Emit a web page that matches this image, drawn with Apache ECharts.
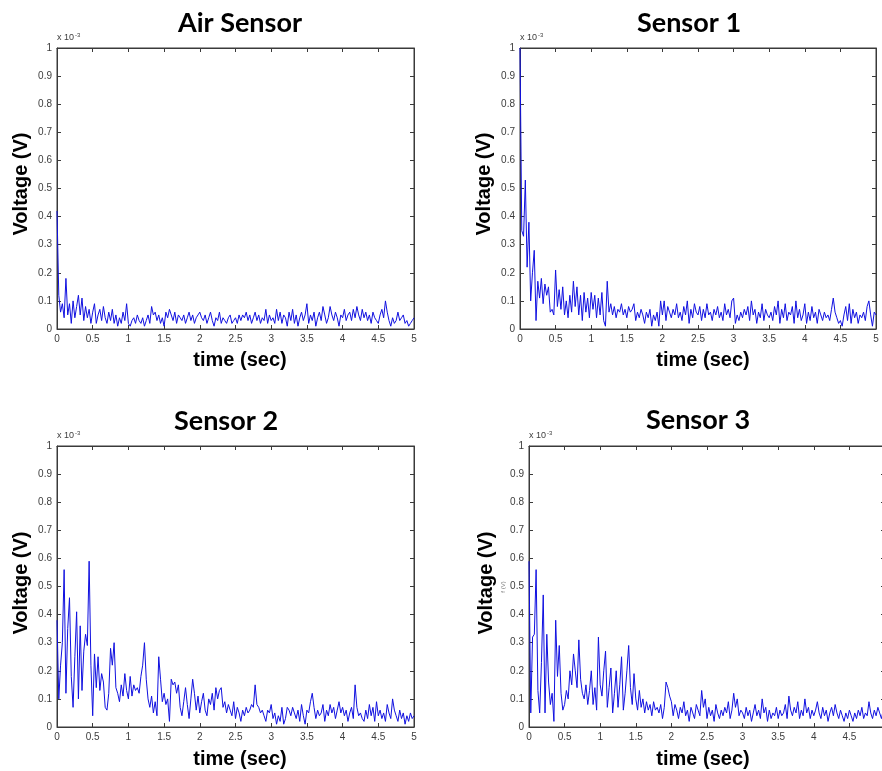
<!DOCTYPE html>
<html>
<head>
<meta charset="utf-8">
<script src="https://cdn.jsdelivr.net/npm/echarts@6/dist/echarts.min.js"></script>
<style>
html,body{margin:0;padding:0;background:#fff;}
#chart{width:882px;height:771px;}
</style>
</head>
<body>
<div id="chart"></div>
<script>
// ---- data (voltage in units of 1e-3 V, sampled every timeStep seconds from t = 0) ----
const timeStep = 0.025;
const panelTitles = ['Air Sensor', 'Sensor 1', 'Sensor 2', 'Sensor 3'];
const xAxisTitle = 'time (sec)';
const yAxisTitle = 'Voltage (V)';
const xMin = 0, xMax = 5, xStep = 0.5;
const yMin = 0, yMax = 1, yStep = 0.1;

const airSensor = [
  0.42,0.12,0.06,0.09,0.04,0.18,0.05,0.09,0.02,0.10,0.04,0.08,0.12,0.05,0.11,0.03,0.08,0.04,0.07,0.02,
  0.06,0.09,0.02,0.05,0.07,0.03,0.08,0.04,0.02,0.06,0.03,0.07,0.02,0.05,0.01,0.04,0.02,0.06,0.03,0.09,
  0.02,0.01,0.03,0.04,0.02,0.05,0.03,0.02,0.04,0.01,0.03,0.05,0.02,0.08,0.05,0.06,0.03,0.05,0.02,0.04,
  0.01,0.06,0.04,0.07,0.05,0.03,0.06,0.02,0.05,0.04,0.03,0.05,0.02,0.04,0.06,0.03,0.05,0.02,0.04,0.05,
  0.06,0.04,0.03,0.05,0.02,0.04,0.06,0.03,0.01,0.04,0.03,0.06,0.02,0.04,0.03,0.02,0.04,0.05,0.02,0.03,
  0.04,0.02,0.05,0.03,0.05,0.04,0.06,0.03,0.05,0.02,0.04,0.06,0.03,0.05,0.02,0.04,0.03,0.07,0.02,0.05,
  0.03,0.04,0.02,0.07,0.03,0.06,0.02,0.05,0.04,0.01,0.06,0.03,0.07,0.02,0.05,0.01,0.04,0.06,0.03,0.05,
  0.09,0.02,0.05,0.03,0.06,0.01,0.04,0.06,0.03,0.08,0.05,0.02,0.04,0.08,0.05,0.03,0.06,0.04,0.01,0.05,
  0.04,0.07,0.03,0.05,0.06,0.03,0.07,0.04,0.08,0.05,0.03,0.07,0.04,0.06,0.03,0.05,0.02,0.06,0.04,0.03,
  0.02,0.05,0.07,0.04,0.10,0.06,0.03,0.01,0.04,0.02,0.03,0.06,0.03,0.04,0.05,0.02,0.03,0.01,0.02,0.03,
  0.04
];
const sensor1 = [
  1.00,0.35,0.33,0.53,0.22,0.38,0.10,0.20,0.28,0.03,0.17,0.11,0.18,0.09,0.16,0.12,0.15,0.06,0.07,0.05,
  0.21,0.08,0.14,0.07,0.15,0.05,0.10,0.04,0.12,0.06,0.17,0.08,0.15,0.05,0.12,0.03,0.13,0.06,0.11,0.04,
  0.13,0.07,0.12,0.04,0.11,0.05,0.13,0.03,0.01,0.17,0.06,0.09,0.05,0.08,0.04,0.07,0.06,0.09,0.05,0.07,
  0.04,0.08,0.06,0.07,0.09,0.03,0.06,0.04,0.07,0.05,0.02,0.06,0.04,0.07,0.01,0.05,0.03,0.06,0.01,0.10,
  0.05,0.10,0.03,0.08,0.06,0.04,0.07,0.05,0.09,0.04,0.06,0.03,0.08,0.05,0.10,0.02,0.07,0.04,0.09,0.06,
  0.05,0.08,0.03,0.07,0.04,0.09,0.05,0.06,0.03,0.07,0.05,0.08,0.04,0.06,0.03,0.09,0.05,0.07,0.04,0.10,
  0.11,0.02,0.05,0.03,0.06,0.04,0.07,0.05,0.08,0.03,0.10,0.05,0.07,0.02,0.06,0.04,0.09,0.03,0.07,0.05,
  0.04,0.06,0.03,0.08,0.05,0.10,0.02,0.07,0.04,0.09,0.03,0.06,0.05,0.08,0.02,0.10,0.04,0.07,0.03,0.05,
  0.09,0.02,0.06,0.03,0.08,0.04,0.06,0.02,0.07,0.05,0.03,0.06,0.04,0.05,0.03,0.07,0.11,0.06,0.04,0.02,
  0.03,0.01,0.05,0.08,0.03,0.09,0.02,0.07,0.04,0.06,0.02,0.05,0.04,0.06,0.03,0.08,0.10,0.05,0.01,0.06,
  0.05
];
const sensor2 = [
  0.38,0.10,0.22,0.30,0.56,0.12,0.35,0.46,0.18,0.07,0.25,0.41,0.10,0.36,0.13,0.27,0.33,0.29,0.59,0.22,
  0.04,0.26,0.14,0.25,0.13,0.19,0.16,0.07,0.06,0.12,0.28,0.22,0.30,0.14,0.12,0.09,0.15,0.11,0.19,0.13,
  0.10,0.18,0.11,0.15,0.13,0.14,0.12,0.18,0.22,0.30,0.17,0.10,0.07,0.11,0.05,0.09,0.04,0.25,0.17,0.09,
  0.12,0.08,0.10,0.02,0.17,0.15,0.16,0.12,0.15,0.07,0.04,0.09,0.14,0.08,0.03,0.10,0.17,0.12,0.06,0.11,
  0.05,0.09,0.12,0.06,0.04,0.10,0.08,0.12,0.06,0.14,0.10,0.13,0.14,0.07,0.09,0.05,0.08,0.06,0.04,0.09,
  0.03,0.07,0.05,0.02,0.06,0.04,0.07,0.05,0.06,0.08,0.07,0.15,0.08,0.07,0.05,0.06,0.04,0.02,0.06,0.05,
  0.08,0.03,0.05,0.01,0.04,0.02,0.07,0.01,0.03,0.07,0.06,0.04,0.07,0.05,0.03,0.06,0.02,0.08,0.04,0.01,
  0.06,0.05,0.09,0.12,0.07,0.03,0.06,0.04,0.05,0.08,0.02,0.06,0.04,0.08,0.05,0.07,0.03,0.06,0.09,0.05,
  0.07,0.04,0.06,0.02,0.05,0.07,0.03,0.15,0.07,0.04,0.05,0.03,0.02,0.06,0.03,0.08,0.04,0.07,0.02,0.09,
  0.04,0.06,0.03,0.05,0.02,0.08,0.05,0.03,0.10,0.06,0.04,0.02,0.06,0.03,0.05,0.01,0.04,0.02,0.05,0.03,
  0.04
];
const sensor3 = [
  0.59,0.05,0.32,0.33,0.56,0.13,0.05,0.23,0.47,0.05,0.33,0.16,0.08,0.12,0.02,0.38,0.18,0.29,0.12,0.06,
  0.08,0.13,0.10,0.20,0.15,0.26,0.20,0.14,0.31,0.17,0.12,0.10,0.15,0.08,0.13,0.20,0.08,0.14,0.06,0.32,
  0.15,0.11,0.20,0.27,0.07,0.14,0.21,0.05,0.12,0.20,0.07,0.15,0.25,0.06,0.12,0.20,0.29,0.14,0.08,0.19,
  0.10,0.06,0.13,0.07,0.10,0.05,0.09,0.06,0.08,0.04,0.09,0.06,0.07,0.05,0.08,0.03,0.07,0.16,0.14,0.11,
  0.09,0.04,0.08,0.06,0.03,0.07,0.05,0.09,0.04,0.06,0.02,0.07,0.05,0.03,0.08,0.06,0.04,0.13,0.07,0.10,
  0.03,0.07,0.04,0.06,0.02,0.08,0.05,0.03,0.06,0.04,0.07,0.05,0.09,0.03,0.06,0.12,0.07,0.10,0.04,0.06,
  0.05,0.03,0.07,0.04,0.06,0.02,0.05,0.08,0.04,0.06,0.03,0.10,0.05,0.07,0.02,0.06,0.03,0.05,0.04,0.07,
  0.03,0.06,0.04,0.05,0.08,0.03,0.11,0.06,0.04,0.07,0.05,0.09,0.03,0.06,0.04,0.10,0.05,0.07,0.03,0.06,
  0.04,0.06,0.09,0.05,0.03,0.07,0.04,0.06,0.02,0.05,0.07,0.04,0.08,0.05,0.03,0.06,0.04,0.02,0.05,0.03,
  0.06,0.04,0.02,0.05,0.03,0.06,0.04,0.07,0.03,0.05,0.04,0.09,0.05,0.03,0.06,0.04,0.07,0.05,0.03,0.06,
  0.05
];
const seriesValues = [airSensor, sensor1, sensor2, sensor3];

// ---- layout (pixels) ----
const panels = [
  {left: 57,  top: 48,  width: 357, height: 281, title: [240, 23],  xName: [240, 360], yName: [21, 184],  scale: [57, 38]},
  {left: 520, top: 48,  width: 356, height: 281, title: [689, 23],  xName: [703, 360], yName: [484, 184], scale: [520, 38]},
  {left: 57,  top: 446, width: 357, height: 281, title: [226, 421], xName: [240, 759], yName: [21, 583],  scale: [57, 436]},
  {left: 529, top: 446, width: 356, height: 281, title: [698, 420], xName: [703, 759], yName: [486, 583], scale: [529, 436]}
];

const AX = '#3a3a3a';
const labelFont = {color: '#3c3c3c', fontSize: 10, fontFamily: '"Liberation Sans", Arial, sans-serif'};

function tickStyle() {
  return {show: true, inside: true, length: 4, lineStyle: {color: AX, width: 1}};
}
function lineStyleAxis() {
  return {show: true, onZero: false, lineStyle: {color: AX, width: 1}};
}

const grid = [], xAxis = [], yAxis = [], series = [], graphic = [];
panels.forEach((p, i) => {
  grid.push({left: p.left, top: p.top, width: p.width, height: p.height,
    show: true, borderColor: AX, borderWidth: 1, backgroundColor: '#fff',
    containLabel: false, outerBoundsMode: 'none'});
  ['bottom', 'top'].forEach(pos => {
    xAxis.push({type: 'value', gridIndex: i, min: xMin, max: xMax, interval: xStep, position: pos,
      splitLine: {show: false}, axisLine: lineStyleAxis(), axisTick: tickStyle(),
      axisLabel: pos === 'bottom'
        ? Object.assign({show: true, margin: 5, showMaxLabel: true, showMinLabel: true}, labelFont)
        : {show: false}});
  });
  ['left', 'right'].forEach(pos => {
    yAxis.push({type: 'value', gridIndex: i, min: yMin, max: yMax, interval: yStep, position: pos,
      splitLine: {show: false}, axisLine: lineStyleAxis(), axisTick: tickStyle(),
      axisLabel: pos === 'left'
        ? Object.assign({show: true, margin: 5, showMaxLabel: true, showMinLabel: true}, labelFont)
        : {show: false}});
  });

  series.push({
    type: 'line', xAxisIndex: 2 * i, yAxisIndex: 2 * i,
    data: seriesValues[i].map((v, k) => [k * timeStep, v]),
    showSymbol: false, symbol: 'none', clip: true,
    lineStyle: {color: '#1010e0', width: 1}, itemStyle: {color: '#1010e0'},
    animation: false
  });

  graphic.push({type: 'text', x: p.title[0], y: p.title[1], style: {
    text: panelTitles[i], font: 'bold 27px Lato, "Noto Sans", sans-serif',
    fill: '#000', textAlign: 'center', textVerticalAlign: 'middle'}});
  graphic.push({type: 'text', x: p.xName[0], y: p.xName[1], style: {
    text: xAxisTitle, font: 'bold 20px "Liberation Sans", Arial, sans-serif',
    fill: '#000', textAlign: 'center', textVerticalAlign: 'middle'}});
  graphic.push({type: 'text', x: p.yName[0], y: p.yName[1], rotation: Math.PI / 2, style: {
    text: yAxisTitle, font: 'bold 20px "Liberation Sans", Arial, sans-serif',
    fill: '#000', textAlign: 'center', textVerticalAlign: 'middle'}});
  graphic.push({type: 'text', x: p.scale[0], y: p.scale[1], style: {
    text: '{a|x 10}{b|-3}', textAlign: 'left', textVerticalAlign: 'middle',
    rich: {
      a: {fontSize: 9, fontFamily: '"Liberation Sans", Arial, sans-serif', fill: '#3c3c3c', color: '#3c3c3c', lineHeight: 12},
      b: {fontSize: 6, fontFamily: '"Liberation Sans", Arial, sans-serif', fill: '#3c3c3c', color: '#3c3c3c', lineHeight: 12, verticalAlign: 'top', padding: [0, 0, 6, 1]}
    }}});
});
// small stray label next to the Sensor 3 y-axis title
graphic.push({type: 'text', x: 503, y: 587, rotation: Math.PI / 2, style: {
  text: 'f (V)', font: '6px "Liberation Sans", Arial, sans-serif', fill: '#777',
  textAlign: 'center', textVerticalAlign: 'middle'}});

const chart = echarts.init(document.getElementById('chart'), null, {renderer: 'canvas'});
chart.setOption({
  backgroundColor: '#fff',
  animation: false,
  grid, xAxis, yAxis, series, graphic
});
</script>
</body>
</html>
